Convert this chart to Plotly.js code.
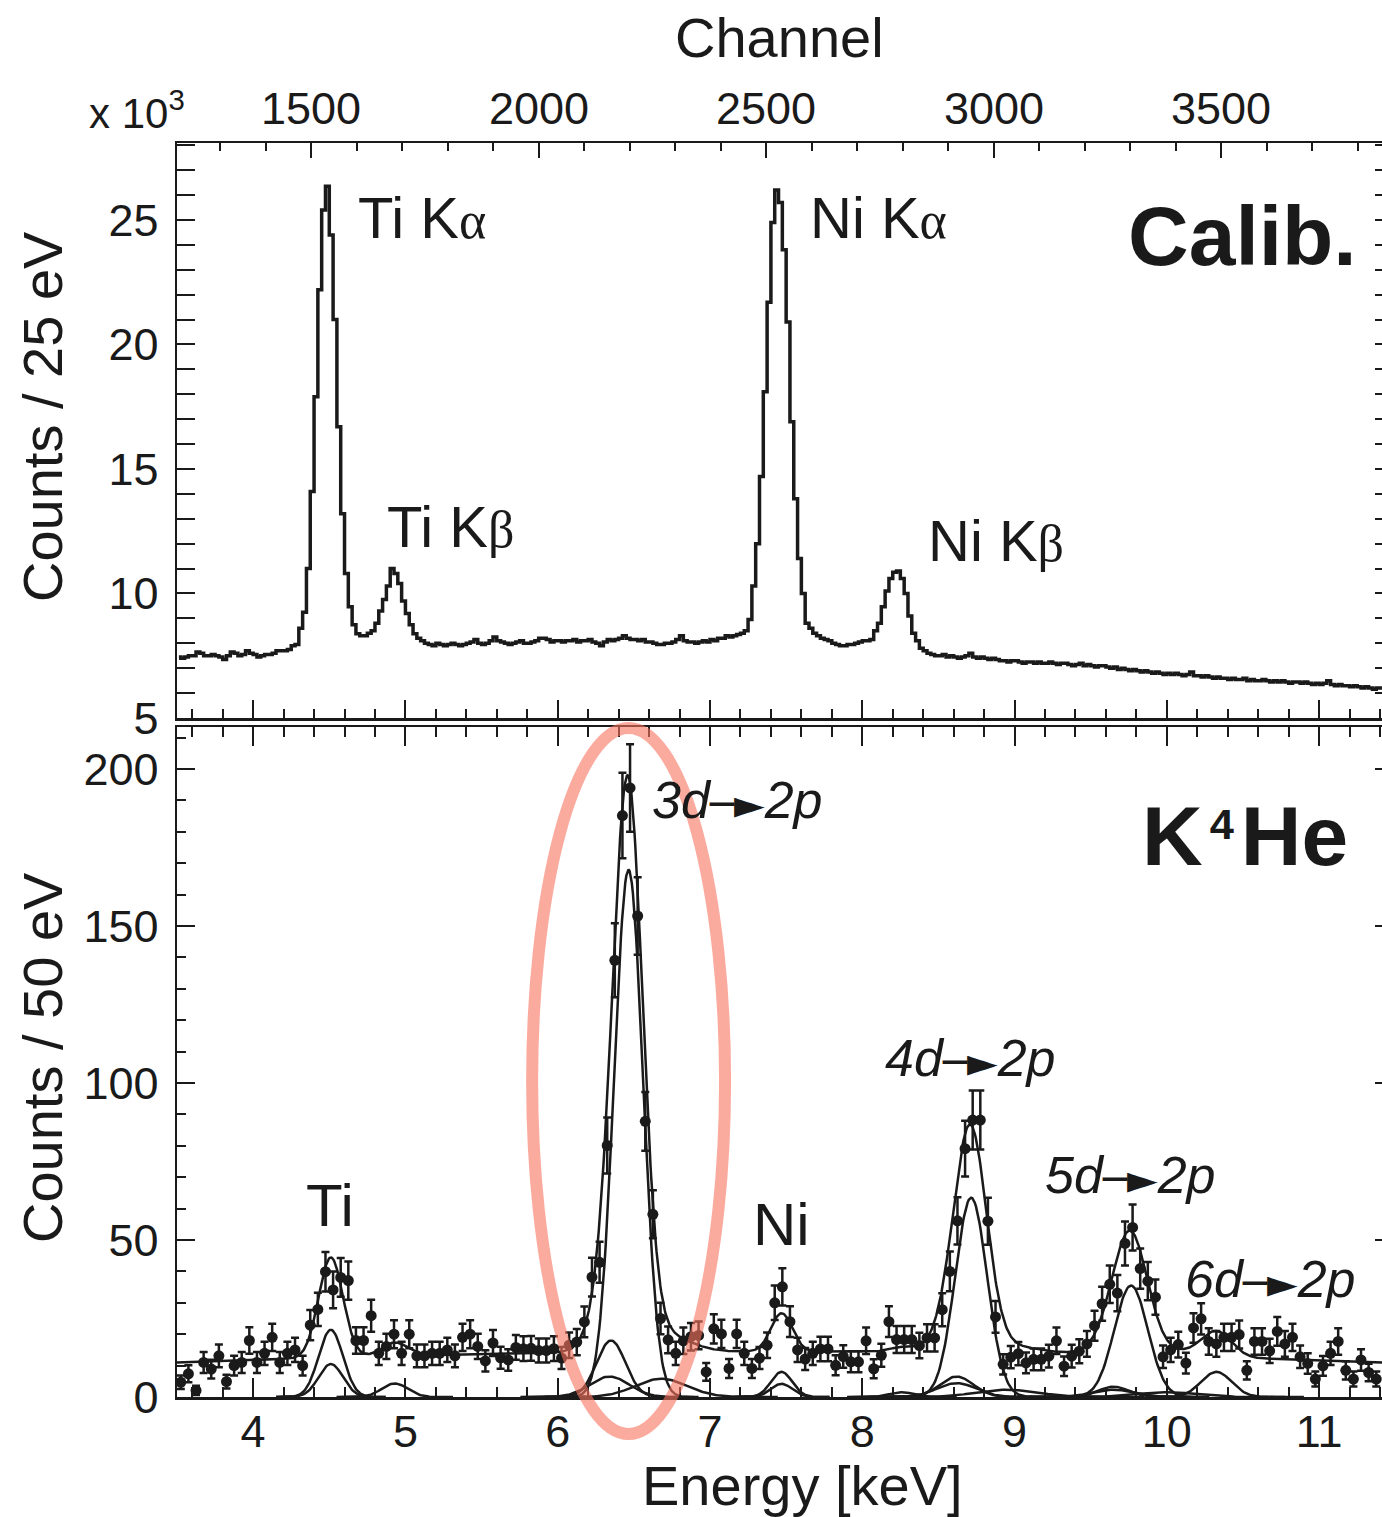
<!DOCTYPE html>
<html>
<head>
<meta charset="utf-8">
<script src="https://cdn.plot.ly/plotly-3.0.1.min.js"></script>
<style>
html,body{margin:0;padding:0;overflow:hidden;background:#fff}
#chart{width:1394px;height:1517px}
</style>
</head>
<body>
<div id="chart"></div>
<script>
// ---------------- DATA ----------------
// Calibration spectrum: counts (x10^3) per 25 eV bin, bins start at 3.5 keV
const calibBinStart = 3.5;
const calibBinWidth = 0.025;
const calibCounts = [
 7.45,7.4,7.45,7.5,7.5,7.65,7.6,7.5,7.5,7.55, 7.5,7.45,7.35,7.5,7.65,7.6,7.5,7.55,7.7,7.6,
 7.55,7.45,7.5,7.55,7.55,7.6,7.7,7.7,7.7,7.75,
 7.9,7.95,8.6,9.25,11.0,14.1,17.9,22.2,25.4,26.35, 24.4,21.0,16.7,13.2,10.8,9.47,8.74,8.38,8.3,8.3,
 8.4,8.5,8.8,9.3,9.76,10.3,11.0,10.8,10.4,9.7, 9.2,8.74,8.38,8.2,8.1,
 8.0,7.95,7.9,8.0,7.95,7.9,7.95,8.0,7.95,7.9, 7.95,8.0,8.05,8.15,8.0,7.95,8.0,8.1,8.25,8.1,
 8.05,8.0,7.95,8.0,8.05,8.1,8.0,8.0,8.05,8.1, 8.2,8.2,8.15,8.05,8.1,8.1,8.05,8.1,8.1,8.15,
 8.05,8.1,8.1,8.15,8.05,8.0,7.9,8.05,8.15,8.1, 8.15,8.2,8.3,8.2,8.15,8.15,8.1,8.15,8.05,8.05,
 8.0,7.95,7.95,8.0,8.0,8.05,8.15,8.3,8.1,8.05,
 8.05,8.0,8.05,8.1,8.05,8.15,8.1,8.2,8.2, 8.3,8.25,8.3,8.35,8.4,
 8.5,8.96,10.3,12.0,14.7,18.1,21.7,24.9,26.2,25.7, 23.8,20.9,16.9,13.8,11.4,10.0,8.8,8.6,8.4,8.3,
 8.2,8.15,8.1,8.0,7.95,7.9,7.9,7.95,7.95,8.0, 8.05,8.1,8.1,8.15,8.5,8.8,9.47,10.1,10.6,10.85,
 10.9,10.6,10.0,9.1,8.4,8.1,7.8,7.7,7.6,
 7.55,7.5,7.5,7.55,7.45,7.5,7.45,7.4,7.45,7.5,7.6,7.45,7.4,7.45,7.4,7.35,7.4,7.35,
 7.3,7.3,7.25,7.3,7.3,7.25,7.2,7.25,7.25,7.2,7.25,7.2,7.2,7.25,7.2,7.15,7.2,7.2,7.15,7.1,7.15,7.2,7.1,7.15,7.1,7.05,7.1,7.1,
 7.05,7.0,7.05,6.95,7.0,6.95,6.9,6.95,6.9,6.85,6.9,6.85,6.8,6.85,6.8,6.75,6.8,6.75,6.8,6.75,6.7,6.75,6.85,6.7,6.7,
 6.65,6.7,6.65,6.6,6.65,6.6,6.6,6.55,6.6,6.55,6.55,6.6,6.5,6.55,6.5,6.5,6.55,6.5,6.45,6.5,6.45,6.5,6.45,6.4,6.45,6.45,6.4,
 6.45,6.4,6.35,6.4,6.35,6.4,6.5,6.35,6.3,6.35,6.3,6.3,6.25,6.3,6.25,6.2,6.25,6.2,6.15,6.2,6.2
];

// K4He spectrum: counts per 50 eV bin, bins start at 3.5 keV
const heBinStart = 3.5;
const heBinWidth = 0.05;
const heCounts = [
 4.7,7.4,2.1,11.0,8.9,13.1,4.9,10.0,11.0,18.0,
 11.0,13.9,19.0,11.0,13.9,15.0,10.0,22.9,27.9,39.9,
 34.1,38.1,37.1,18.0,18.0,25.9,13.9,16.1,20.0,13.9,
 20.0,13.1,13.1,13.9,13.9,15.0,13.1,19.0,20.0,16.1,
 11.5,17.2,12.5,11.8,15.8,15.4,15.5,14.8,14.8,15.4,
 12.4,16.5,17.5,23.9,38.2,42.9,80.1,139.1,185.2,194.0,
 153.2,87.8,58.2,25.0,18.2,13.9,17.9,19.2,19.6,8.0,
 21.7,20.1,9.1,20.1,13.9,9.1,12.4,16.5,30.0,35.1,
 24.0,15.0,12.1,13.9,15.3,15.3,10.1,12.9,11.2,11.2,
 17.9,9.0,13.3,24.0,18.3,18.3,18.3,16.4,18.8,18.8,
 27.8,40.0,56.1,79.1,88.2,88.2,56.0,25.5,10.4,12.7,
 13.8,10.9,12.0,12.0,13.0,17.9,9.8,13.0,14.6,16.9,
 22.7,29.7,35.9,33.1,48.9,54.0,40.9,36.9,31.8,12.8,
 15.0,16.7,10.8,22.0,24.9,17.7,16.9,19.0,19.0,19.9,
 8.5,17.7,17.7,14.7,20.9,16.9,19.0,12.8,10.7,5.7,
 9.9,13.9,17.7,8.5,5.7,11.8,7.8,5.7
];

// Fit components (Gaussian lines): centre [keV], height [counts], sigma [keV]
const lineNames  = ["Ti Ka (1)","Ti Ka (2)","Ti Kb","3d-2p","3d sat. 1","3d sat. 2","3d broad","Ni Ka (1)","Ni Ka (2)","Ni Kb","4d-2p","4d sat. 1","4d sat. 2","4d broad","5d-2p","5d sat. 1","5d sat. 2","5d broad","6d-2p"];
const lineCenter = [4.51, 4.51, 4.93, 6.465, 6.35, 6.34, 6.68, 7.47, 7.47, 8.26, 8.715, 8.62, 8.62, 8.95, 9.765, 9.65, 9.65, 10.0, 10.325];
const lineHeight = [21.4, 10.5, 4.3, 168, 18, 6.5, 5.8, 8.0, 4.2, 1.5, 63.5, 6.5, 4.4, 2.3, 35.5, 3.3, 2.3, 1.5, 8.0];
const lineSigma  = [0.08, 0.08, 0.085, 0.095, 0.095, 0.13, 0.17, 0.07, 0.07, 0.08, 0.105, 0.11, 0.13, 0.2, 0.11, 0.1, 0.14, 0.2, 0.1];

// Background level of the total fit, read at three energies
const bgE = [3.5, 7.45, 11.4];
const bgV = [11.0, 14.5, 11.0];

// Axis ticks
const energyTicks = [4,5,6,7,8,9,10,11];
const channelTicks = [1500,2000,2500,3000,3500];
const calibYTicks = [5,10,15,20,25];
const heYTicks = [0,50,100,150,200];

// Highlighted region (data units of the lower panel)
const highlight = {e0: 5.832, e1: 7.099, c0: -11.8, c1: 213.1};

// ---------------- LAYOUT CONSTANTS ----------------
const W = 1394, H = 1517;
const M = {l:177, r:1, t:143, b:120};
const PW = W - M.l - M.r, PH = H - M.t - M.b;
const eRange = [3.5, 11.485];
const chRange = [1205.5, 3878];
const calibYRange = [5, 28.09];
const heYRange = [0, 213.4];
const INK = '#1a1a1a';
const FONT = 'Liberation Sans, Arial, Helvetica, sans-serif';

// ---------------- TRACES ----------------
const calibX = calibCounts.map((_, i) => calibBinStart + (i + 0.5) * calibBinWidth);
const heX = heCounts.map((_, i) => heBinStart + (i + 0.5) * heBinWidth);
const heErr = heCounts.map(v => Math.sqrt(v));

function gauss(e, k) {
  const d = (e - lineCenter[k]) / lineSigma[k];
  return lineHeight[k] * Math.exp(-0.5 * d * d);
}
function background(e) {
  let s = 0;
  for (let i = 0; i < 3; i++) {
    let t = bgV[i];
    for (let j = 0; j < 3; j++) if (j !== i) t *= (e - bgE[j]) / (bgE[i] - bgE[j]);
    s += t;
  }
  return s;
}

const traces = [];
traces.push({
  x: calibX, y: calibCounts, xaxis: 'x2', yaxis: 'y2', type: 'scatter', mode: 'lines',
  line: {color: INK, width: 3.5, shape: 'hvh'}, hoverinfo: 'skip', showlegend: false, name: 'Calibration'
});
// invisible trace that carries the channel axis
traces.push({x: [chRange[0], chRange[1]], y: [null, null], xaxis: 'x3', yaxis: 'y2', type: 'scatter',
  mode: 'lines', hoverinfo: 'skip', showlegend: false, name: 'channel'});

lineCenter.forEach((c, k) => {
  const xs = [], ys = [];
  const n = 120;
  for (let i = 0; i <= n; i++) {
    const e = c - 4.5 * lineSigma[k] + 9 * lineSigma[k] * i / n;
    xs.push(e); ys.push(gauss(e, k));
  }
  traces.push({x: xs, y: ys, xaxis: 'x', yaxis: 'y', type: 'scatter', mode: 'lines',
    line: {color: INK, width: 2.5}, hoverinfo: 'skip', showlegend: false, name: lineNames[k]});
});

{
  const xs = [], ys = [];
  const n = 1600;
  for (let i = 0; i <= n; i++) {
    const e = eRange[0] + (eRange[1] - eRange[0]) * i / n;
    let s = background(e);
    for (let k = 0; k < lineCenter.length; k++) s += gauss(e, k);
    xs.push(e); ys.push(s);
  }
  traces.push({x: xs, y: ys, xaxis: 'x', yaxis: 'y', type: 'scatter', mode: 'lines',
    line: {color: INK, width: 2.5}, hoverinfo: 'skip', showlegend: false, name: 'Total fit'});
}

traces.push({
  x: heX, y: heCounts, xaxis: 'x', yaxis: 'y', type: 'scatter', mode: 'markers',
  marker: {color: INK, size: 11},
  error_y: {type: 'data', array: heErr, visible: true, color: INK, thickness: 2.5, width: 4},
  showlegend: false, name: 'K4He data'
});

// ---------------- AXES ----------------
const tickFont = {family: FONT, size: 45, color: INK};
function baseAxis(extra) {
  return Object.assign({
    showline: true, linecolor: INK, linewidth: 2.5, showgrid: false, zeroline: false,
    ticks: 'inside', tickcolor: INK, tickwidth: 2, tickfont: Object.assign({}, tickFont), fixedrange: true
  }, extra);
}

const botDomTop = (H - M.b - 727) / PH;
const topDomBot = (H - M.b - 718) / PH;

const layout = {
  width: W, height: H, margin: M, paper_bgcolor: '#fff', plot_bgcolor: 'rgba(0,0,0,0)',
  showlegend: false, font: {family: FONT, color: INK},
  xaxis: baseAxis({domain: [0, 1], anchor: 'y', range: eRange, tickmode: 'array',
    tickvals: energyTicks, ticktext: energyTicks.map(String), ticklen: 19, mirror: 'allticks',
    ticklabelstandoff: -7,
    minor: {tickmode: 'linear', tick0: 4, dtick: 0.2, ticklen: 10, tickwidth: 2, tickcolor: INK, ticks: 'inside'}}),
  yaxis: baseAxis({domain: [0, botDomTop], anchor: 'x', range: heYRange, tickmode: 'array',
    tickvals: heYTicks, ticktext: heYTicks.map(String), ticklen: 18, mirror: 'allticks',
    ticklabelstandoff: 7,
    minor: {tickmode: 'linear', tick0: 0, dtick: 10, ticklen: 9, tickwidth: 2, tickcolor: INK, ticks: 'inside'}}),
  xaxis2: baseAxis({domain: [0, 1], anchor: 'y2', range: eRange, showticklabels: false, tickmode: 'array',
    tickvals: energyTicks, ticklen: 18,
    minor: {tickmode: 'linear', tick0: 4, dtick: 0.2, ticklen: 9, tickwidth: 2, tickcolor: INK, ticks: 'inside'}}),
  yaxis2: baseAxis({domain: [topDomBot, 1], anchor: 'x2', range: calibYRange, tickmode: 'array',
    tickvals: calibYTicks, ticktext: calibYTicks.map(String), ticklen: 18, mirror: 'allticks',
    ticklabelstandoff: 7,
    minor: {tickmode: 'linear', tick0: 5, dtick: 1, ticklen: 9, tickwidth: 2, tickcolor: INK, ticks: 'inside'}}),
  xaxis3: baseAxis({overlaying: 'x2', anchor: 'y2', side: 'top', range: chRange, tickmode: 'array',
    tickvals: channelTicks, ticktext: channelTicks.map(String), ticklen: 15, showticklabels: false,
    minor: {tickmode: 'linear', tick0: 1500, dtick: 100, ticklen: 8, tickwidth: 2, tickcolor: INK, ticks: 'inside'}}),
  shapes: [{
    type: 'circle', xref: 'x domain', yref: 'y domain', layer: 'above',
    x0: (highlight.e0 - eRange[0]) / (eRange[1] - eRange[0]),
    x1: (highlight.e1 - eRange[0]) / (eRange[1] - eRange[0]),
    y0: (highlight.c0 - heYRange[0]) / (heYRange[1] - heYRange[0]),
    y1: (highlight.c1 - heYRange[0]) / (heYRange[1] - heYRange[0]),
    line: {color: 'rgb(250,115,95)', width: 12}, opacity: 0.6, fillcolor: 'rgba(0,0,0,0)'
  }],
  annotations: []
};

function px(xp) { return (xp - M.l) / PW; }
function py(yp) { return (H - M.b - yp) / PH; }
function label(text, x, y, size, opts) {
  layout.annotations.push(Object.assign({
    text: text, xref: 'paper', yref: 'paper', x: px(x), y: py(y), showarrow: false,
    xanchor: 'left', yanchor: 'middle', font: {family: FONT, size: size, color: INK}
  }, opts || {}));
}
// channel tick labels placed through the channel axis
channelTicks.forEach(c => {
  layout.annotations.push({text: String(c), xref: 'x3', yref: 'paper', x: c, y: py(108),
    showarrow: false, xanchor: 'center', yanchor: 'middle', font: Object.assign({}, tickFont)});
});

const GK = s => '<span style="font-family:Liberation Serif, DejaVu Serif, serif;font-size:52px">' + s + '</span>';
const ARROW = '<span style="font-family:DejaVu Sans;font-size:40px">\u2500\u25BA</span>';
label('Channel', 779, 37, 56, {xanchor: 'center'});
label('Energy [keV]', 802, 1485, 56, {xanchor: 'center'});
label('Counts / 25 eV', 42, 417, 56, {xanchor: 'center', textangle: -90});
label('Counts / 50 eV', 42, 1058, 56, {xanchor: 'center', textangle: -90});
label('x 10<sup>3</sup>', 187, 110, 42, {xanchor: 'right'});
label('Ti K' + GK('\u03B1'), 356, 217, 58);
label('Ti K' + GK('\u03B2'), 385, 526, 58);
label('Ni K' + GK('\u03B1'), 808, 217, 58);
label('Ni K' + GK('\u03B2'), 926, 540, 58);
label('<b>Calib.</b>', 1359, 236, 84, {xanchor: 'right'});
label('<b>K\u200A<span style="font-size:62px"><sup>4</sup></span>\u200AHe</b>', 1350, 836, 84, {xanchor: 'right'});
label('<i>3d' + ARROW + '2p</i>', 650, 800, 52);
label('<i>4d' + ARROW + '2p</i>', 883, 1058, 52);
label('<i>5d' + ARROW + '2p</i>', 1043, 1175, 52);
label('<i>6d' + ARROW + '2p</i>', 1183, 1279, 52);
label('Ti', 304, 1205, 60);
label('Ni', 751, 1224, 60);

Plotly.newPlot('chart', traces, layout, {staticPlot: true, displayModeBar: false});
</script>
</body>
</html>
